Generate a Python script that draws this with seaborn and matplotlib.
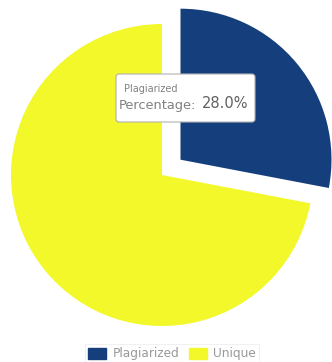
import matplotlib
matplotlib.use("Agg")
import matplotlib.pyplot as plt
import seaborn as sns
from matplotlib.patches import FancyBboxPatch, Patch

sns.set_theme(style="white")
plt.rcParams['font.family'] = ['DejaVu Sans']

categories = ["Plagiarized", "Unique"]
values = [28.0, 72.0]
colors = ["#153f7c", "#f2f82a"]

W, H = 332, 362
fig = plt.figure(figsize=(W / 100, H / 100), dpi=100)
ax = fig.add_axes([0, 0, 1, 1])

ax.pie(values, colors=colors, startangle=90, counterclock=False,
       radius=151, center=(162, H - 175), explode=[24, 0],
       wedgeprops=dict(linewidth=0), frame=True)
ax.set_xlim(0, W)
ax.set_ylim(0, H)
ax.set_aspect("equal")
ax.axis("off")

# tooltip
box = FancyBboxPatch((116, H - 122), 139, 48, boxstyle="round,pad=0,rounding_size=3",
                     facecolor="white", edgecolor="#b0b0b0", linewidth=0.8, zorder=5)
ax.add_patch(box)
ax.text(124, H - 89, categories[0], fontsize=7, color="#808080", va="center", zorder=6)
ax.text(119, H - 105, "Percentage:", fontsize=9.3, color="#808080", va="center", zorder=6)
ax.text(202, H - 104, f"{values[0]:.1f}%", fontsize=10.5, color="#606060", va="center", zorder=6)

handles = [Patch(facecolor=c, edgecolor=c, label=l) for c, l in zip(colors, categories)]
leg = fig.legend(handles=handles, loc="center", bbox_to_anchor=(172 / W, 1 - 354 / H),
                 ncol=2, frameon=True, fontsize=8.7, handlelength=1.5, handleheight=1.0,
                 handletextpad=0.5, columnspacing=0.8, borderpad=0.3, fancybox=False)
leg.get_frame().set_edgecolor("#eeeeee")
leg.get_frame().set_linewidth(0.8)
for txt in leg.get_texts():
    txt.set_color("#999999")

fig.savefig("out.png", dpi=100)
